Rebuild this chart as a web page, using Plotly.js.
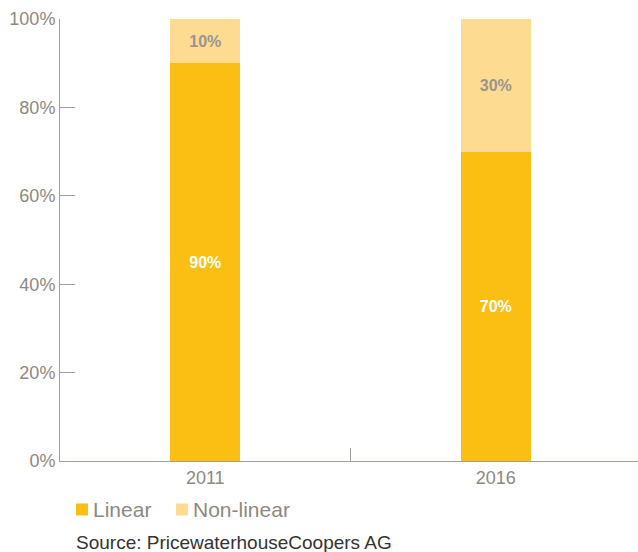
<!DOCTYPE html>
<html><head><meta charset="utf-8">
<script src="https://cdn.plot.ly/plotly-3.0.1.min.js"></script>
<style>html,body{margin:0;padding:0;background:#fff;overflow:hidden}#chart{width:641px;height:552px}</style>
</head><body><div id="chart"></div>
<script>
var years = ['2011', '2016'];
var linear = [90, 70];
var nonLinear = [10, 30];
var seriesNames = ['Linear', 'Non-linear'];
var seriesColors = ['#fbbf13', '#fddc91'];
var yTicks = [0, 20, 40, 60, 80, 100];

var axisGrey = '#a39d97';
var textGrey = '#8e8883';
var font = 'Liberation Sans, Arial, Helvetica, sans-serif';

var data = [
  {type: 'bar', name: seriesNames[0], x: years, y: linear,
   text: linear.map(function(v){return v + '%';}), textposition: 'inside', insidetextanchor: 'middle',
   textangle: 0, constraintext: 'none',
   insidetextfont: {family: font, size: 16, color: '#ffffff', weight: 'bold'},
   marker: {color: seriesColors[0]}, hoverinfo: 'skip'},
  {type: 'bar', name: seriesNames[1], x: years, y: nonLinear,
   text: nonLinear.map(function(v){return v + '%';}), textposition: 'inside', insidetextanchor: 'middle',
   textangle: 0, constraintext: 'none',
   insidetextfont: {family: font, size: 16, color: '#9a9590', weight: 'bold'},
   marker: {color: seriesColors[1]}, hoverinfo: 'skip'}
];

// pixel -> paper helpers (plot area: x 60..641, y 19..461.5)
function px(x) { return (x - 60) / 581; }
function py(y) { return (461.5 - y) / 442.5; }

var shapes = [];
var annotations = [];
var legendX = [76, 176];
seriesNames.forEach(function(name, i) {
  shapes.push({type: 'rect', xref: 'paper', yref: 'paper',
    x0: px(legendX[i]), x1: px(legendX[i] + 12), y0: py(516), y1: py(504),
    fillcolor: seriesColors[i], line: {width: 0}});
  annotations.push({xref: 'paper', yref: 'paper', x: px(legendX[i] + 15), y: py(510),
    xanchor: 'left', yanchor: 'middle', showarrow: false, text: name,
    font: {family: font, size: 21, color: textGrey}});
});
annotations.push({xref: 'paper', yref: 'paper', x: px(74), y: py(543), xanchor: 'left', yanchor: 'middle',
  text: 'Source: PricewaterhouseCoopers AG', showarrow: false,
  font: {family: font, size: 19, color: '#333333'}});

var layout = {
  width: 641, height: 552,
  barmode: 'stack', bargap: 0.759,
  margin: {l: 60, r: 0, t: 19, b: 90.5, pad: 0},
  paper_bgcolor: 'rgba(0,0,0,0)', plot_bgcolor: 'rgba(0,0,0,0)',
  font: {family: font, color: textGrey, size: 18},
  showlegend: false,
  xaxis: {type: 'category', range: [-0.5, 1.5], showline: true, linecolor: axisGrey, linewidth: 1,
          ticks: 'inside', tickson: 'boundaries', ticklen: 13, tickcolor: axisGrey,
          showgrid: false, zeroline: false, tickfont: {family: font, size: 18, color: textGrey}},
  yaxis: {range: [0, 100], tickvals: yTicks, ticktext: yTicks.map(function(v){return v + '%';}),
          showline: true, linecolor: axisGrey, linewidth: 1, ticks: 'inside', ticklen: 15,
          tickcolor: axisGrey, showgrid: false, zeroline: false,
          tickfont: {family: font, size: 18, color: textGrey}},
  shapes: shapes,
  annotations: annotations
};

Plotly.newPlot('chart', data, layout, {displayModeBar: false, staticPlot: true});
</script></body></html>
